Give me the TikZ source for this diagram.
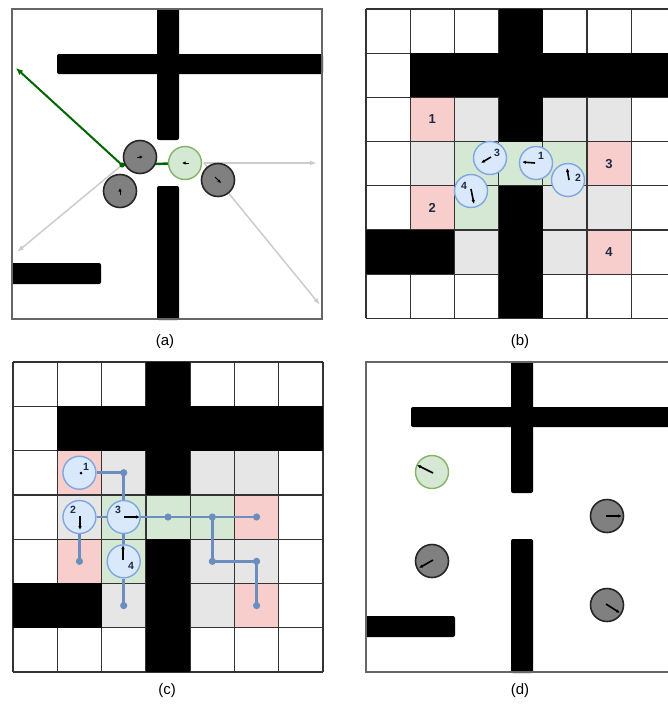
\documentclass[tikz,border=0pt]{standalone}
\usepackage{fontspec}
\setmainfont{Liberation Sans}
\usetikzlibrary{arrows.meta,backgrounds}
\definecolor{pinkc}{HTML}{F8CECC}
\definecolor{greyc}{HTML}{E6E6E6}
\definecolor{greenc}{HTML}{D5E8D4}
\definecolor{greenb}{HTML}{82B366}
\definecolor{bluec}{HTML}{DAE8FC}
\definecolor{blueb}{HTML}{7EA6E0}
\definecolor{pathc}{HTML}{6C8EBF}
\definecolor{navy}{HTML}{1F2A44}
\definecolor{darkg}{HTML}{006600}
\tikzset{
 panelframe/.style={draw=black!60, line width=1.4pt},
 wall/.style={fill=black, rounded corners=2pt},
 gridl/.style={draw=black!80, line width=1.3pt},
 grobot/.style={circle, draw=black!85, fill=black!50, line width=1.6pt, minimum size=33pt, inner sep=0pt},
 grnrobot/.style={circle, draw=greenb, fill=greenc, line width=1.4pt, minimum size=33pt, inner sep=0pt},
 brobot/.style={circle, draw=blueb, fill=bluec, line width=1.4pt, minimum size=33pt, inner sep=0pt},
 stub/.style={line width=1.6pt, -{Latex[length=4pt,width=3.5pt]}},
 tinymark/.style={line width=1pt, -{Latex[length=3.5pt,width=3.5pt]}},
 grayray/.style={draw=black!20, line width=1.5pt, -{Latex[length=7pt,width=5pt]}},
 greenray/.style={draw=darkg, line width=2pt, -{Latex[length=7pt,width=6pt]}},
 cellnum/.style={font=\bfseries\fontsize{13}{15}\selectfont, text=navy},
 rlab/.style={font=\bfseries\fontsize{10.5}{12}\selectfont, text=navy, inner sep=0pt},
 panellabel/.style={font=\fontsize{15}{17}\selectfont},
 route/.style={draw=pathc, line width=2.6pt},
 routedot/.style={fill=pathc},
}
\newcommand\mycells{%
 \foreach \c/\r in {1/2,1/4,5/3,5/5} \fill[pinkc] (\c,\r) rectangle ++(1,1);
 \foreach \c/\r in {2/2,4/2,5/2,1/3,4/4,5/4,2/5,4/5} \fill[greyc] (\c,\r) rectangle ++(1,1);
 \foreach \c/\r in {2/3,3/3,4/3,2/4} \fill[greenc] (\c,\r) rectangle ++(1,1);
 \foreach \i in {0,...,7} {\draw[gridl] (\i,0) -- (\i,7); \draw[gridl] (0,\i) -- (7,\i);}
 \fill (1,1) rectangle (7,2);
 \fill (3,0) rectangle (4,3);
 \fill (3,4) rectangle (4,7);
 \fill (0,5) rectangle (2,6);
}
\newcommand\mywalls{%
 \fill[wall] (45,45) rectangle (311,65);
 \fill[wall] (145,-1) rectangle (167,131);
 \fill[wall] (145,177) rectangle (167,311);
 \fill[wall] (-1,254) rectangle (89,275);
 \draw[panelframe] (0,0) rectangle (310,310);
}
\begin{document}
\begin{tikzpicture}[x=1pt,y=-1pt]
\path[use as bounding box, clip] (0,0) rectangle (668,707);

% ---------- panel (a)
\begin{scope}[shift={(12,9)}]
 \mywalls
\end{scope}
\node[grobot] (a1) at (140,157) {};
\node[grobot] (a2) at (120,191) {};
\node[grobot] (a3) at (218,180) {};
\node[grnrobot] (ag) at (185,163) {};
\coordinate (aP) at (122,165);
\coordinate (aQ) at (204,163);
\coordinate (aE1) at (16,68);
\coordinate (aE2) at (17,252);
\coordinate (aE3) at (317,163);
\coordinate (aE4) at (320,305);
\begin{pgfonlayer}{background}
 \draw[grayray] (aP) -- (aE2);
 \draw[grayray] (aQ) -- (aE3);
 \draw[grayray] (aQ) -- (aE4);
 \draw[draw=darkg, line width=2.4pt] (aP) -- (ag);
\end{pgfonlayer}
\draw[greenray] (aP) -- (aE1);
\fill[darkg] (aP) circle (2.6pt);
\draw[tinymark] (137,157) -- (143,157);
\draw[tinymark] (120,195) -- (120,188);
\draw[tinymark] (215,177) -- (221,183);
\draw[tinymark] (189,163) -- (182,163);
\node[panellabel] (la) at (165,342) {(a)};

% ---------- panel (b)
\begin{scope}[shift={(366,9)}, x=44.2pt, y=-44.2pt]
 \mycells
 \node[cellnum] (n1) at (1.5,2.5) {1};
 \node[cellnum] (n2) at (1.5,4.5) {2};
 \node[cellnum] (n3) at (5.5,3.5) {3};
 \node[cellnum] (n4) at (5.5,5.5) {4};
\end{scope}
\node[brobot] (b3) at (490,158) {};
\node[brobot] (b1) at (536,163) {};
\node[brobot] (b2) at (568,180) {};
\node[brobot] (b4) at (471,191) {};
\draw[stub] (491,157) -- (481,163);
\draw[stub] (535,163) -- (522,162);
\draw[stub] (569,180) -- (567,168);
\draw[stub] (471,189) -- (474,204);
\node[rlab] at (497,153) {3};
\node[rlab] at (541,156) {1};
\node[rlab] at (578,178) {2};
\node[rlab] at (464,186) {4};
\node[panellabel] (lb) at (520,342) {(b)};

% ---------- panel (c)
\begin{scope}[shift={(13,362)}, x=44.29pt, y=-44.29pt]
 \mycells
 \coordinate (r1c) at (1.5,2.5);
 \coordinate (r2c) at (1.5,3.5);
 \coordinate (r3c) at (2.5,3.5);
 \coordinate (r4c) at (2.5,4.5);
 \coordinate (d1) at (2.5,2.5);
 \coordinate (d2) at (1.5,4.5);
 \coordinate (d3) at (3.5,3.5);
 \coordinate (d4) at (4.5,3.5);
 \coordinate (d5) at (5.5,3.5);
 \coordinate (d6) at (4.5,4.5);
 \coordinate (d7) at (5.5,4.5);
 \coordinate (d8) at (5.5,5.5);
 \coordinate (d9) at (2.5,5.5);
\end{scope}
\node[brobot] (c1) at (r1c) {};
\node[brobot] (c2) at (r2c) {};
\node[brobot] (c3) at (r3c) {};
\node[brobot] (c4) at (r4c) {};
\draw[route] (c1) -- (d1) -- (c3);
\draw[route] (c2) -- (c3);
\draw[route] (c2) -- (d2);
\draw[route] (c3) -- (d3) -- (d4) -- (d5);
\draw[route] (d4) -- (d6) -- (d7) -- (d8);
\draw[route] (c3) -- (c4);
\draw[route] (c4) -- (d9);
\foreach \d in {d1,d2,d3,d4,d5,d6,d7,d8,d9} \fill[routedot] (\d) circle (3.6pt);
\fill (81,473) circle (1.5pt);
\draw[stub] (80,516) -- (80,530);
\draw[stub] (124,517) -- (140,517);
\draw[stub] (123,560) -- (123,545);
\node[rlab] at (86,467) {1};
\node[rlab] at (73,510) {2};
\node[rlab] at (118,510) {3};
\node[rlab] at (131,566) {4};
\node[panellabel] (lc) at (167,691) {(c)};

% ---------- panel (d)
\begin{scope}[shift={(366,362)}]
 \mywalls
\end{scope}
\node[grnrobot] (dg) at (432,472) {};
\node[grobot] (dr1) at (607,516) {};
\node[grobot] (dr2) at (432,561) {};
\node[grobot] (dr3) at (607,605) {};
\draw[stub] (433,473) -- (417,465);
\draw[stub] (606,516) -- (622,516);
\draw[stub] (433,560) -- (419,568);
\draw[stub] (606,604) -- (620,613);
\node[panellabel] (ld) at (520,691) {(d)};
\end{tikzpicture}
\end{document}
